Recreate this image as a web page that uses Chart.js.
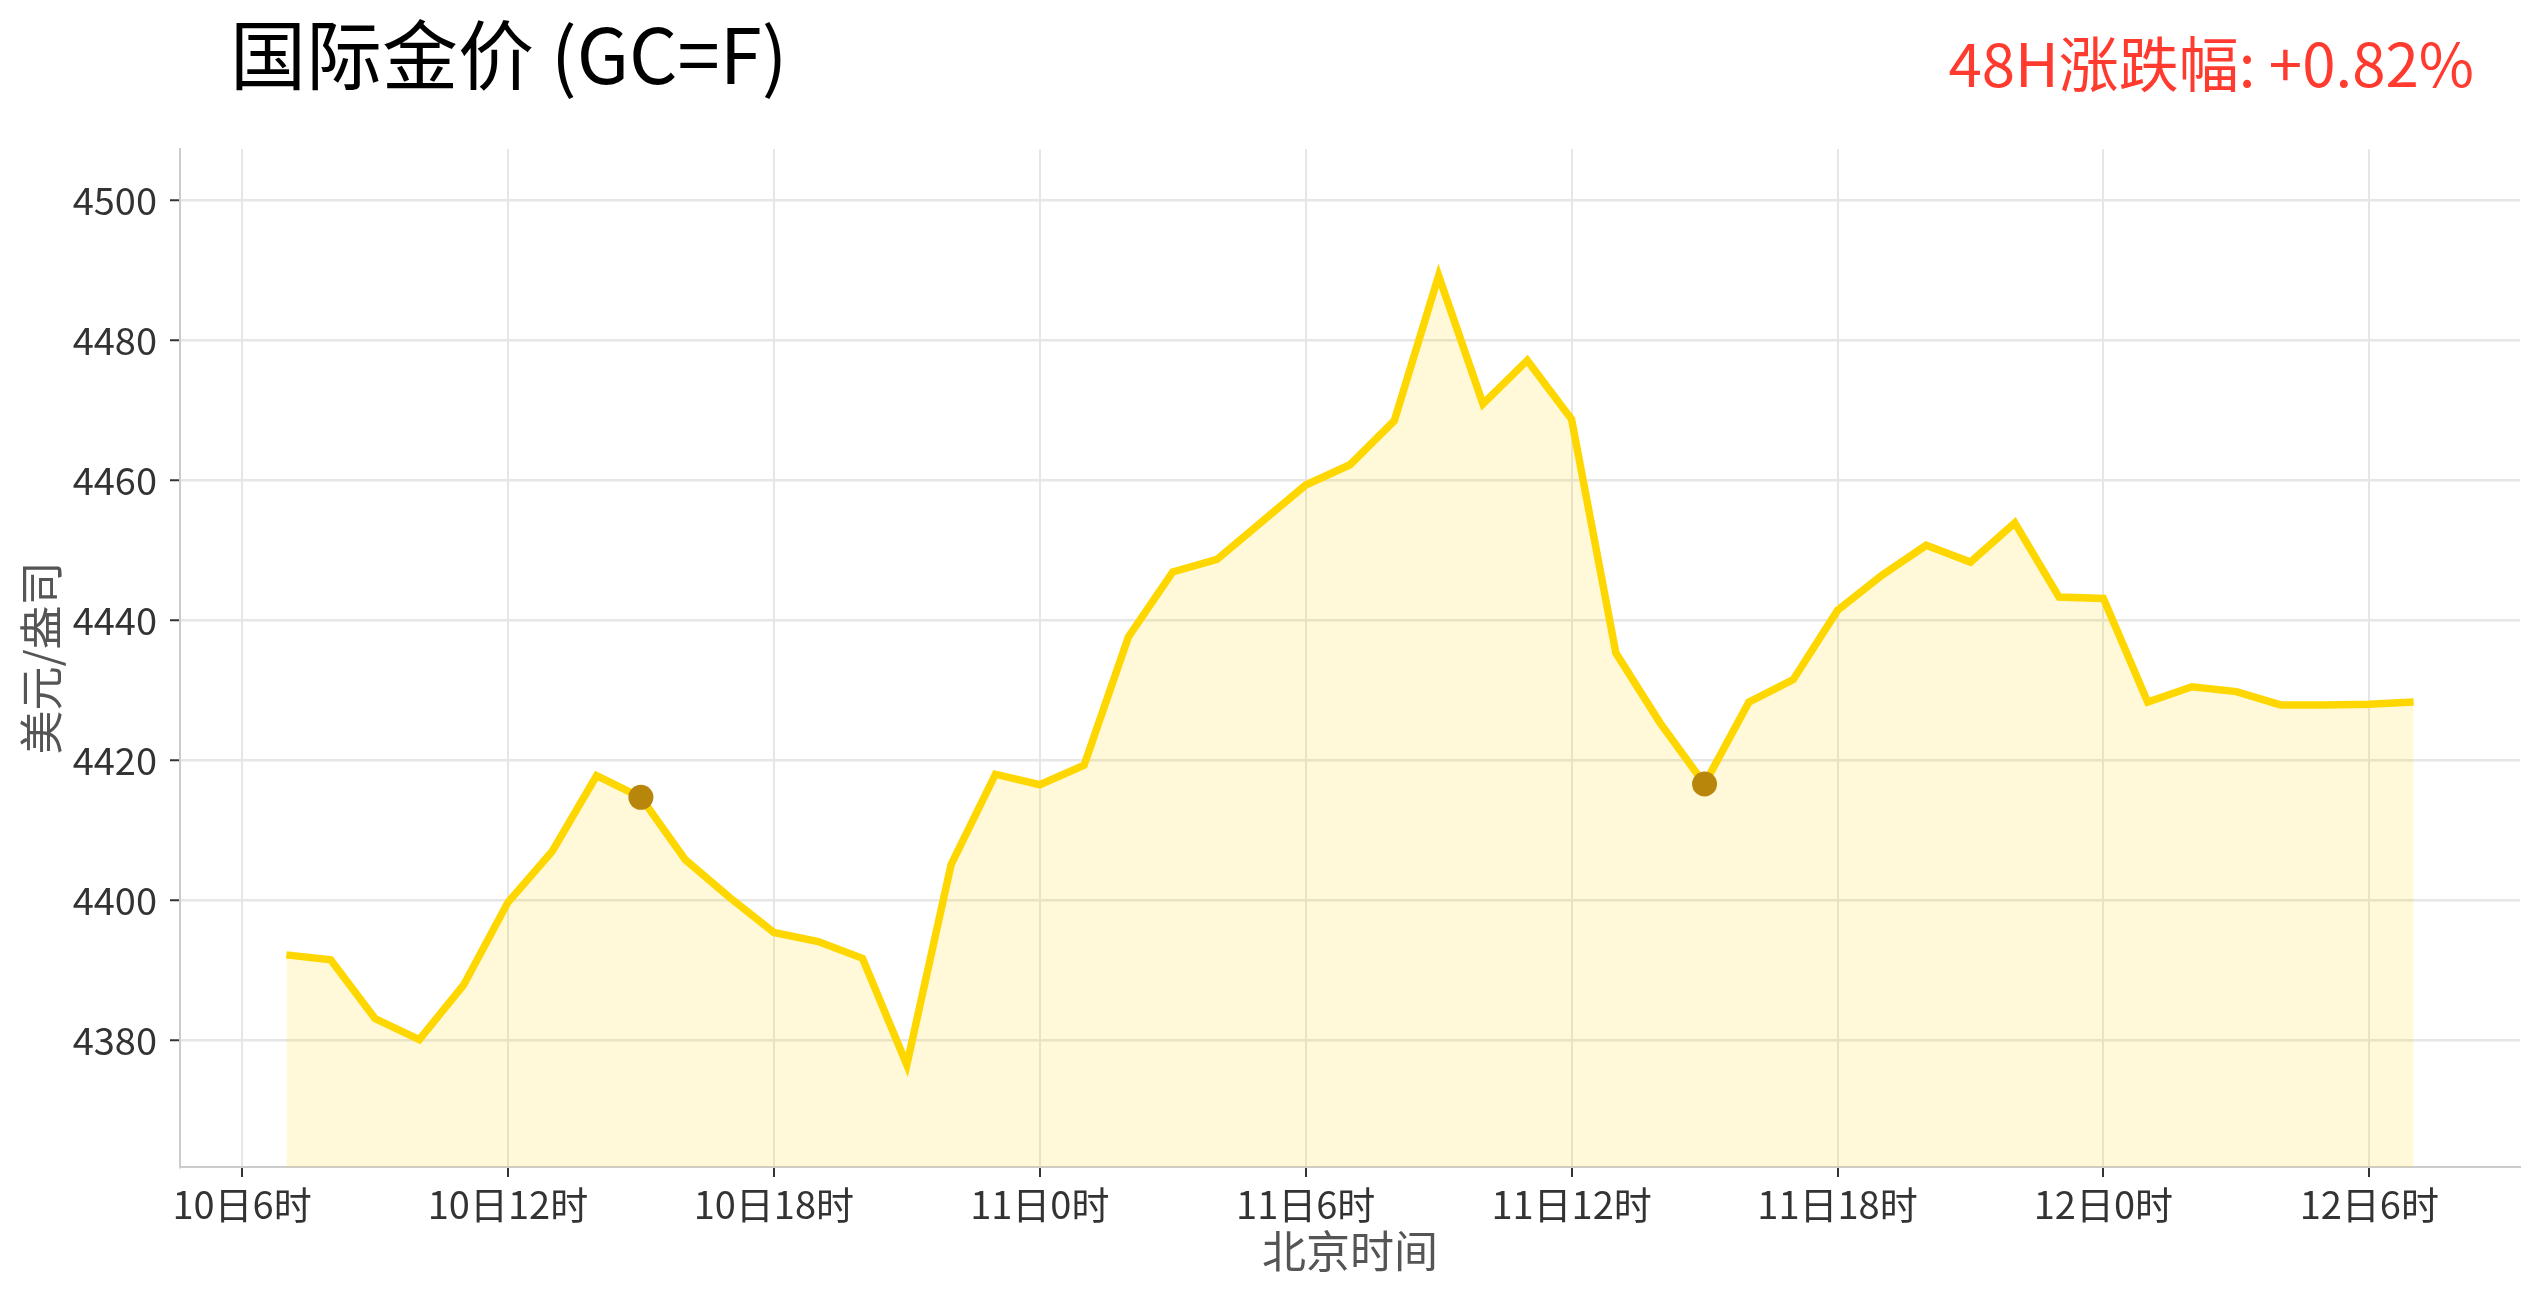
<!DOCTYPE html>
<html>
<head>
<meta charset="utf-8">
<script src="https://cdn.jsdelivr.net/npm/chart.js@4.4.1/dist/chart.umd.min.js"></script>
<style>
  html, body { margin: 0; padding: 0; background: #fff; }
  #wrap { width: 2541px; height: 1302px; }
</style>
</head>
<body>
<div id="wrap"><canvas id="goldchart" width="2541" height="1302"></canvas></div>
<script>
// hours counted from 10日0时 (Beijing time)
const hours = [7, 8, 9, 10, 11, 12, 13, 14, 15, 16, 17, 18, 19, 20, 21, 22, 23,
  24, 25, 26, 27, 28, 29, 30, 31, 32, 33, 34, 35, 36, 37, 38, 39, 40, 41, 42, 43,
  44, 45, 46, 47, 48, 49, 50, 51, 52, 53, 54, 55];

const prices = [4392.2, 4391.5, 4383.1, 4380.1, 4387.9, 4399.7, 4407.0, 4417.8, 4414.7,
  4405.8, 4400.4, 4395.4, 4394.1, 4391.7, 4376.5, 4405.1, 4418.0, 4416.5, 4419.3,
  4437.6, 4446.9, 4448.7, 4454.0, 4459.3, 4462.2, 4468.5, 4489.2, 4470.9, 4477.1,
  4468.7, 4435.3, 4425.3, 4416.6, 4428.3, 4431.5, 4441.4, 4446.4, 4450.7, 4448.3,
  4453.9, 4443.3, 4443.1, 4428.3, 4430.5, 4429.8, 4427.9, 4427.9, 4428.0, 4428.3];

// points highlighted with a dot
const markedHours = [15, 39];

const xTicks = [6, 12, 18, 24, 30, 36, 42, 48, 54];
const xTickLabels = ['10日6时', '10日12时', '10日18时', '11日0时', '11日6时', '11日12时', '11日18时', '12日0时', '12日6时'];
const yTicks = [4380, 4400, 4420, 4440, 4460, 4480, 4500];

const titleText = '国际金价 (GC=F)';
const changeText = '48H涨跌幅: +0.82%';

const FONT = '"Noto Sans CJK SC", "Noto Sans", sans-serif';

const linePts = hours.map((h, i) => ({ x: h, y: prices[i] }));
const dotPts = markedHours.map(h => ({ x: h, y: prices[hours.indexOf(h)] }));

// title + change text
const headerText = {
  id: 'headerText',
  afterDraw(chart) {
    const c = chart.ctx;
    c.save();
    c.textBaseline = 'middle';
    c.font = '76px ' + FONT;
    c.fillStyle = '#000';
    c.textAlign = 'left';
    c.fillText(titleText, 230, 55);
    c.font = '60px ' + FONT;
    c.fillStyle = '#FF3B30';
    c.textAlign = 'right';
    c.fillText(changeText, 2474, 64);
    c.restore();
  }
};

const ctx = document.getElementById('goldchart');

new Chart(ctx, {
  type: 'line',
  data: {
    datasets: [
      {
        data: dotPts,
        showLine: false,
        pointRadius: 12.5,
        pointBackgroundColor: '#B8860B',
        pointBorderWidth: 0,
        order: 0
      },
      {
        data: linePts,
        borderColor: '#FFD700',
        borderWidth: 7.5,
        backgroundColor: 'rgba(255, 215, 0, 0.15)',
        fill: 'start',
        pointRadius: 0,
        tension: 0,
        order: 1
      }
    ]
  },
  options: {
    responsive: false,
    devicePixelRatio: 1,
    animation: false,
    layout: { padding: { left: 0, right: 21, top: 149, bottom: 0 } },
    plugins: {
      legend: { display: false },
      tooltip: { enabled: false }
    },
    scales: {
      x: {
        type: 'linear',
        min: 4.6,
        max: 57.4,
        afterBuildTicks: s => { s.ticks = xTicks.map(v => ({ value: v })); },
        afterFit: s => { s.height = 135; },
        grid: { color: '#e6e6e6', lineWidth: 2, tickColor: '#333', tickLength: 10, tickWidth: 2 },
        border: { color: '#cccccc', width: 2 },
        ticks: {
          autoSkip: false,
          maxRotation: 0,
          padding: 5,
          color: '#333',
          font: { family: FONT, size: 38 },
          callback: v => xTickLabels[xTicks.indexOf(v)]
        },
        title: {
          display: true,
          text: '北京时间',
          color: '#555',
          font: { family: FONT, size: 44 },
          padding: { top: 0, bottom: 24 }
        }
      },
      y: {
        min: 4361.9,
        max: 4507.3,
        afterBuildTicks: s => { s.ticks = yTicks.map(v => ({ value: v })); },
        afterFit: s => { s.width = 180; },
        grid: { color: '#e6e6e6', lineWidth: 2.5, tickColor: '#333', tickLength: 10, tickWidth: 2 },
        border: { color: '#cccccc', width: 2 },
        ticks: {
          padding: 13,
          color: '#333',
          font: { family: FONT, size: 38 },
          callback: v => String(v)
        },
        title: {
          display: true,
          text: '美元/盎司',
          color: '#555',
          font: { family: FONT, size: 44 },
          padding: { top: 15, bottom: 0 }
        }
      }
    }
  },
  plugins: [headerText]
});
</script>
</body>
</html>
